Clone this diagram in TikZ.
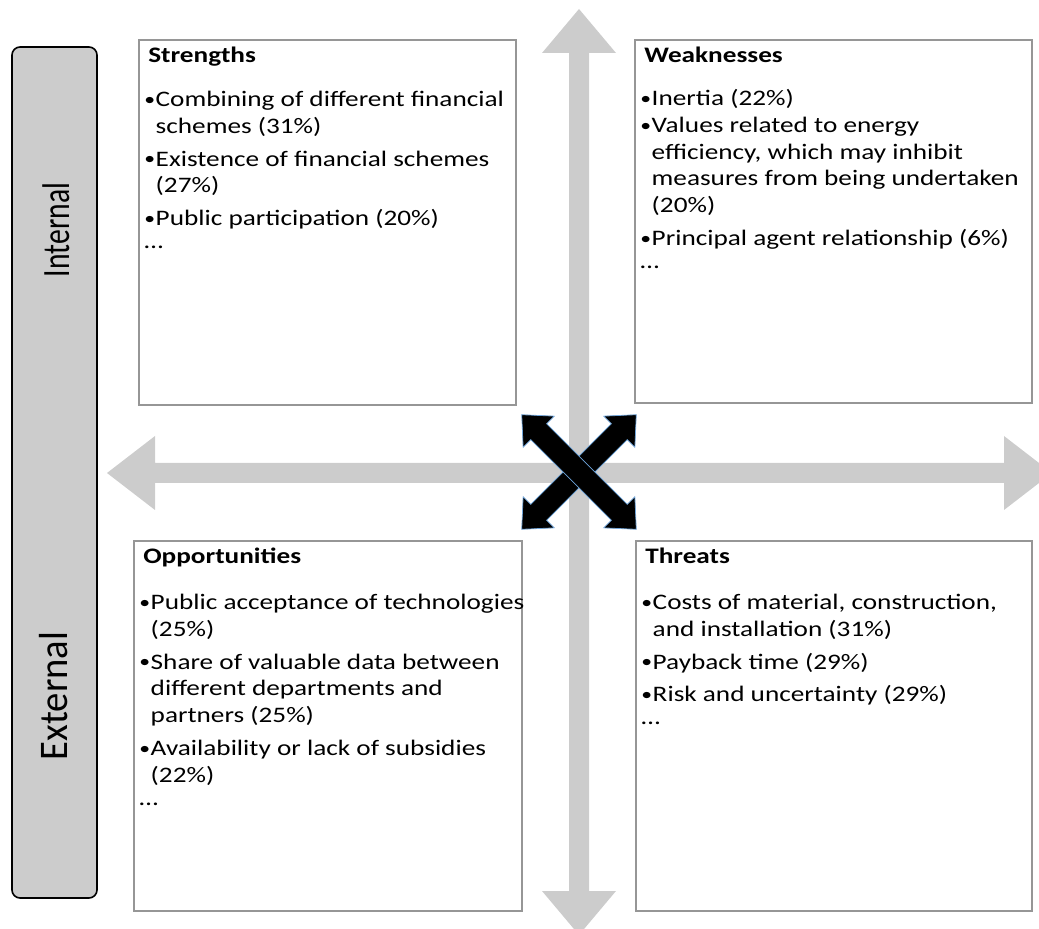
\documentclass[tikz,border=0pt]{standalone}
\usepackage{fontspec}
\setmainfont{Carlito}
\usepackage{graphicx}
\usetikzlibrary{fit,calc}

\definecolor{axisgray}{RGB}{204,204,204}
\definecolor{boxline}{RGB}{150,150,150}
\definecolor{glow}{RGB}{110,165,220}

\newlength\bulw
\newlength\itemgap
\setlength\itemgap{3.4pt}
\newlength\dotgap
\setlength\dotgap{-2.2pt}
\newcommand\hstretch[1]{\scalebox{1.23}[1]{#1}}
\newcommand\bul{\makebox[\bulw][l]{\raisebox{0.1ex}{\scalebox{0.8}{•}}}}
\newcommand\cont{\hspace*{\bulw}}
\newcommand\swotlist[1]{\hstretch{\parbox[t]{10cm}{\fontsize{12.6pt}{15.3pt}\selectfont
  \setlength\bulw{0.42em}\raggedright #1}}}
\newcommand\swottitle[1]{\hstretch{\fontsize{12.6pt}{14pt}\selectfont\bfseries #1}}

\begin{document}
\begin{tikzpicture}[x=0.02cm,y=-0.02cm,
  swotbox/.style={draw=boxline,line width=0.8pt,fill=white,inner sep=0pt},
  sidebar/.style={draw=black,line width=0.9pt,fill=axisgray,rounded corners=0.16cm,inner sep=0pt},
  textblock/.style={anchor=base west,inner sep=0pt,outer sep=0pt},
  sidelabel/.style={anchor=base,rotate=90,inner sep=0pt},
  bigarrow/.style={fill=black,draw=glow,line width=0.4pt,line join=miter}]
\useasboundingbox (0,0) rectangle (1039,929);
\clip (0,0) rectangle (1039,929);

% grey axes
\fill[axisgray] (579,9) -- (616,53) -- (589,53) -- (589,891) -- (616,891) -- (579,935)
  -- (542,891) -- (569,891) -- (569,53) -- (542,53) -- cycle;
\fill[axisgray] (107,473) -- (155,436) -- (155,463) -- (1004,463) -- (1004,436) -- (1052,473)
  -- (1004,510) -- (1004,483) -- (155,483) -- (155,510) -- cycle;

% side bar with the two labels
\node[sidebar,fit={(12,47) (97,898)}] (side) {};
\node[sidelabel] (internal) at (70,230) {\scalebox{1}[1.3]{\fontsize{16.9pt}{18pt}\selectfont Internal}};
\node[sidelabel] (external) at (68,696) {\scalebox{1}[1.05]{\fontsize{22pt}{24pt}\selectfont External}};

% the four quadrants
\node[swotbox,fit={(139,40) (516,405)}] (S) {};
\node[swotbox,fit={(635,40) (1032,403)}] (W) {};
\node[swotbox,fit={(134,541) (522,911)}] (O) {};
\node[swotbox,fit={(636,541) (1032,911)}] (T) {};

\node[textblock] (St) at ($(S.north west)+(10,23)$) {\swottitle{Strengths}};
\node[textblock] (Sl) at ($(S.north west)+(6,67)$) {\swotlist{%
\bul Combining of different financial\\
\cont schemes (31\%)\\[\itemgap]
\bul Existence of financial schemes\\
\cont (27\%)\\[\itemgap]
\bul Public participation (20\%)\\[\dotgap]
…}};

\node[textblock] (Wt) at ($(W.north west)+(10,23)$) {\swottitle{Weaknesses}};
\node[textblock] (Wl) at ($(W.north west)+(6,66)$) {\swotlist{%
\bul Inertia (22\%)\\
\bul Values related to energy\\
\cont efficiency, which may inhibit\\
\cont measures from being undertaken\\
\cont (20\%)\\[\itemgap]
\bul Principal agent relationship (6\%)\\[\dotgap]
…}};

\node[textblock] (Ot) at ($(O.north west)+(10,23)$) {\swottitle{Opportunities}};
\node[textblock] (Ol) at ($(O.north west)+(6,69)$) {\swotlist{%
\bul Public acceptance of technologies\\
\cont (25\%)\\[\itemgap]
\bul Share of valuable data between\\
\cont different departments and\\
\cont partners (25\%)\\[\itemgap]
\bul Availability or lack of subsidies\\
\cont (22\%)\\[\dotgap]
…}};

\node[textblock] (Tt) at ($(T.north west)+(10,23)$) {\swottitle{Threats}};
\node[textblock] (Tl) at ($(T.north west)+(6,69)$) {\swotlist{%
\bul Costs of material, construction,\\
\cont and installation (31\%)\\[\itemgap]
\bul Payback time (29\%)\\[\itemgap]
\bul Risk and uncertainty (29\%)\\[\dotgap]
…}};

% black crossed double arrows in the centre
\begin{scope}[shift={(579,472)},rotate=45]
\draw[bigarrow] (-81,0) -- (-57,22) -- (-57,11.3) -- (57,11.3) -- (57,22) -- (81,0)
  -- (57,-22) -- (57,-11.3) -- (-57,-11.3) -- (-57,-22) -- cycle;
\end{scope}
\begin{scope}[shift={(579,472)},rotate=-45]
\draw[bigarrow] (-81,0) -- (-57,22) -- (-57,11.3) -- (57,11.3) -- (57,22) -- (81,0)
  -- (57,-22) -- (57,-11.3) -- (-57,-11.3) -- (-57,-22) -- cycle;
\end{scope}
\end{tikzpicture}
\end{document}
